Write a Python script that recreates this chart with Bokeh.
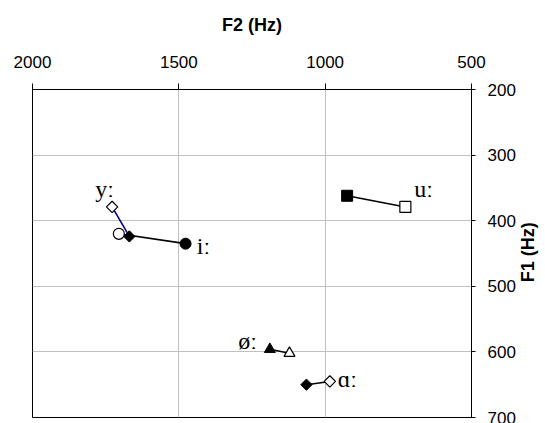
from bokeh.plotting import figure
from bokeh.models import Range1d, FixedTicker, ColumnDataSource, LinearAxis
from bokeh.core.properties import value
from bokeh.embed import file_html
from bokeh.resources import INLINE
import math

# Vowel formant data (Hz): open marker = one series, filled marker = other
vowels      = ["yː", "iː", "uː", "øː", "ɑː"]
f2_open     = [1728, 1705, 726, 1122, 984]
f1_open     = [379, 420, 379, 602, 645]
f2_filled   = [1669, 1477, 925, 1189, 1064]
f1_filled   = [424, 435, 362, 596, 650]

# label anchor positions (Hz)
label_f2    = [1754, 1416, 664, 1265, 924]
label_f1    = [351, 439, 352, 583, 642]

x_ticks = [2000, 1500, 1000, 500]
y_ticks = [200, 300, 400, 500, 600, 700]

p = figure(frame_width=439, frame_height=328, output_backend="svg", toolbar_location=None,
           x_range=Range1d(2000, 500), y_range=Range1d(700, 200),
           x_axis_location="above", y_axis_location="right",
           min_border_left=32, min_border_top=89, min_border_bottom=6, min_border_right=74)

p.outline_line_color = "black"
p.outline_line_width = 1
p.background_fill_color = "white"
p.border_fill_color = "white"

for ax in (p.xaxis[0], p.yaxis[0]):
    ax.major_label_text_font = "Liberation Sans"
    ax.major_label_text_font_size = "17px"
    ax.major_label_text_color = "black"
    ax.axis_label_text_font = "Liberation Sans"
    ax.axis_label_text_font_style = "bold"
    ax.axis_label_text_font_size = "18px"
    ax.axis_label_text_color = "black"
    ax.axis_line_color = "black"
    ax.major_tick_line_color = "black"
    ax.minor_tick_line_color = None
    ax.major_tick_in = 0

p.xaxis[0].ticker = FixedTicker(ticks=x_ticks)
p.yaxis[0].ticker = FixedTicker(ticks=y_ticks)
p.xaxis[0].axis_label = "F2 (Hz)"
p.xaxis[0].major_tick_out = 6
p.xaxis[0].major_label_standoff = 16
p.xaxis[0].axis_label_standoff = 18
p.yaxis[0].major_tick_out = 4
p.yaxis[0].major_label_standoff = 12

# right-hand axis title, reading bottom-to-top (as a single rotated tick label)
title_pos = 494
title_ax = LinearAxis(ticker=FixedTicker(ticks=[title_pos]),
                      major_label_overrides={title_pos: "F1 (Hz)"},
                      major_label_orientation=math.pi / 2,
                      major_label_text_font="Liberation Sans",
                      major_label_text_font_style="bold",
                      major_label_text_font_size="18px",
                      major_label_text_color="black",
                      axis_line_color=None, major_tick_line_color=None,
                      minor_tick_line_color=None, major_tick_out=0, major_tick_in=0,
                      major_label_standoff=10)
p.add_layout(title_ax, "right")

p.xgrid.ticker = FixedTicker(ticks=x_ticks)
p.ygrid.ticker = FixedTicker(ticks=y_ticks)
p.xgrid.grid_line_color = "#c0c0c0"
p.ygrid.grid_line_color = "#c0c0c0"

# connecting lines
line_colors = ["#000080", "black", "black", "black", "black"]
for i in range(len(vowels)):
    p.line([f2_open[i], f2_filled[i]], [f1_open[i], f1_filled[i]],
           line_color=line_colors[i], line_width=1.6)

# markers
diam = dict(marker="square", angle=math.pi / 4)
# y: diamonds
p.scatter([f2_open[0]], [f1_open[0]], size=8, fill_color="white", line_color="black", line_width=1.2, **diam)
p.scatter([f2_filled[0]], [f1_filled[0]], size=8, fill_color="black", line_color="black", **diam)
# i: circles
p.scatter([f2_open[1]], [f1_open[1]], marker="circle", size=11, fill_color="white", line_color="black", line_width=1.2)
p.scatter([f2_filled[1]], [f1_filled[1]], marker="circle", size=11, fill_color="black", line_color="black")
# u: squares
p.scatter([f2_open[2]], [f1_open[2]], marker="square", size=11, fill_color="white", line_color="black", line_width=1.2)
p.scatter([f2_filled[2]], [f1_filled[2]], marker="square", size=11, fill_color="black", line_color="black")
# ø: triangles
p.scatter([f2_open[3]], [f1_open[3]], marker="triangle", size=11, fill_color="white", line_color="black", line_width=1.2)
p.scatter([f2_filled[3]], [f1_filled[3]], marker="triangle", size=11, fill_color="black", line_color="black")
# ɑ: diamonds
p.scatter([f2_open[4]], [f1_open[4]], size=8, fill_color="white", line_color="black", line_width=1.2, **diam)
p.scatter([f2_filled[4]], [f1_filled[4]], size=8, fill_color="black", line_color="black", **diam)

src = ColumnDataSource(dict(x=label_f2, y=label_f1, t=vowels))
p.text(x="x", y="y", text="t", source=src, text_font=value("Liberation Serif"),
       text_font_size="24px", text_align="center", text_baseline="middle", text_color="black")

open("out.html", "w").write(file_html(p, INLINE))
